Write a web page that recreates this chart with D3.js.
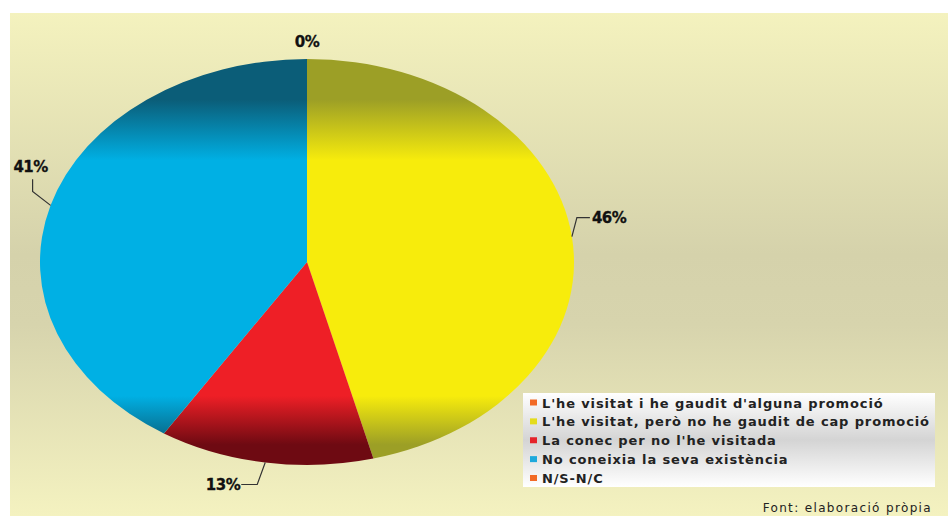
<!DOCTYPE html>
<html>
<head>
<meta charset="utf-8">
<script src="https://cdn.jsdelivr.net/npm/d3@7"></script>
<style>
  body { margin: 0; background: #fff; }
  svg { display: block; }
</style>
</head>
<body>
<script>
// data
const categories = [
  "L'he visitat i he gaudit d'alguna promoció",
  "L'he visitat, però no he gaudit de cap promoció",
  "La conec per no l'he visitada",
  "No coneixia la seva existència",
  "N/S-N/C"
];
const values = [0, 46, 13, 41, 0];
const legendColors = ["#f26a26", "#e4dc1c", "#e5232b", "#1ea9dc", "#f26a26"];
// bright / dark pairs for the shaded slices
const brightColors = ["#f26a26", "#f7ec0c", "#ee1f26", "#00b0e4", "#f26a26"];
const darkColors = ["#b84a14", "#9c9f26", "#6e0a12", "#0b5d78", "#b84a14"];
const sourceText = "Font: elaboració pròpia";

const width = 948, height = 516;
const cx = 307, cy = 262, rx = 267, ry = 203;

const svg = d3.select("body").append("svg").attr("width", width).attr("height", height);
const defs = svg.append("defs");

// panel background
const bg = defs.append("linearGradient").attr("id", "bg").attr("x1", 0).attr("y1", 0).attr("x2", 0).attr("y2", 1);
[[0, "#f4f2be"], [0.48, "#d5d2ab"], [0.62, "#d7d4ad"], [1, "#f4f2c0"]].forEach(s =>
  bg.append("stop").attr("offset", s[0]).attr("stop-color", s[1]));
svg.append("rect").attr("x", 10).attr("y", 13).attr("width", width - 10).attr("height", height - 13).attr("fill", "url(#bg)");

// slice gradients, vertical, in pie space
brightColors.forEach((c, i) => {
  const lg = defs.append("linearGradient").attr("id", "sl" + i)
    .attr("gradientUnits", "userSpaceOnUse").attr("x1", 0).attr("x2", 0).attr("y1", -ry).attr("y2", ry);
  [[0, darkColors[i]], [0.1, darkColors[i]], [0.25, c], [0.83, c], [0.95, darkColors[i]], [1, darkColors[i]]]
    .forEach(s => lg.append("stop").attr("offset", s[0]).attr("stop-color", s[1]));
});

const pie = d3.pie().sort(null).value(d => d);
const arcs = pie(values);
const arc = d3.arc().innerRadius(0).outerRadius(ry);

const pg = svg.append("g").attr("transform", `translate(${cx},${cy}) scale(${rx / ry},1)`);
pg.selectAll("path").data(arcs).enter().append("path")
  .attr("d", arc)
  .attr("fill", (d, i) => `url(#sl${i})`);

// labels with leader lines
const edge = a => [cx + rx * Math.sin(a), cy - ry * Math.cos(a)];
const lbl = svg.append("g");
const pctFont = "DejaVu Sans, Verdana, sans-serif";
const seen = new Set();
arcs.forEach((d, i) => {
  const mid = (d.startAngle + d.endAngle) / 2;
  const [x, y] = edge(mid);
  const key = Math.round(x) + "," + Math.round(y);
  if (seen.has(key)) return;
  seen.add(key);
  const txt = values[i] + "%";
  let pts = null, tx, ty, anchor;
  if (values[i] === 0) {
    tx = x; ty = y - 12; anchor = "middle";
  } else if (x > cx) {
    pts = [[x, y], [x + 5, y - 19], [x + 18, y - 19]];
    tx = x + 20; ty = y - 14; anchor = "start";
  } else if (y > cy + ry * 0.8) {
    pts = [[x, y], [x - 8, y + 22], [x - 24, y + 22]];
    tx = x - 25; ty = y + 27; anchor = "end";
  } else {
    pts = [[x, y], [x - 18, y - 14], [x - 18, y - 26]];
    tx = x - 20; ty = y - 33; anchor = "middle";
  }
  if (pts) lbl.append("path").attr("d", d3.line()(pts)).attr("fill", "none").attr("stroke", "#333").attr("stroke-width", 1.2);
  lbl.append("text").attr("x", tx).attr("y", ty).attr("text-anchor", anchor)
    .attr("font-family", pctFont).attr("font-weight", "bold").attr("font-size", 15)
    .attr("letter-spacing", -0.5).attr("stroke", "#111").attr("stroke-width", 0.3)
    .attr("fill", "#111").text(txt);
});

// legend
const lx = 523, ly = 393, lw = 412, lh = 94;
const lgBg = defs.append("linearGradient").attr("id", "lg").attr("x1", 0).attr("y1", 0).attr("x2", 0).attr("y2", 1);
[[0, "#ffffff"], [0.5, "#d4d4d4"], [1, "#ffffff"]].forEach(s =>
  lgBg.append("stop").attr("offset", s[0]).attr("stop-color", s[1]));
svg.append("rect").attr("x", lx).attr("y", ly).attr("width", lw).attr("height", lh).attr("fill", "url(#lg)");

const legY = d3.scalePoint().domain(d3.range(categories.length)).range([ly + 9.5, ly + 85]);
const leg = svg.append("g");
const items = leg.selectAll("g").data(categories).enter().append("g")
  .attr("transform", (d, i) => `translate(${lx + 7},${legY(i)})`);
items.append("rect").attr("x", 0).attr("y", -3).attr("width", 7).attr("height", 6)
  .attr("fill", (d, i) => legendColors[i]);
const legText = items.append("text").attr("x", 12).attr("y", 5)
  .attr("font-family", "DejaVu Sans, Verdana, sans-serif").attr("font-weight", "bold")
  .attr("font-size", 13).attr("fill", "#222").text(d => d);
// fit letter spacing so the longest line spans as in the picture
const lens = legText.nodes().map(n => n.getComputedTextLength());
const li = d3.maxIndex(lens);
const ls = (387 - lens[li]) / (categories[li].length - 1);
legText.attr("letter-spacing", ls);

// source
const src = svg.append("text").attr("x", 932).attr("y", 512).attr("text-anchor", "end")
  .attr("font-family", "DejaVu Sans, Verdana, sans-serif").attr("font-size", 12)
  .attr("fill", "#222").text(sourceText);
const sl = src.node().getComputedTextLength();
src.attr("letter-spacing", (168 - sl) / (sourceText.length - 1));
</script>
</body>
</html>
